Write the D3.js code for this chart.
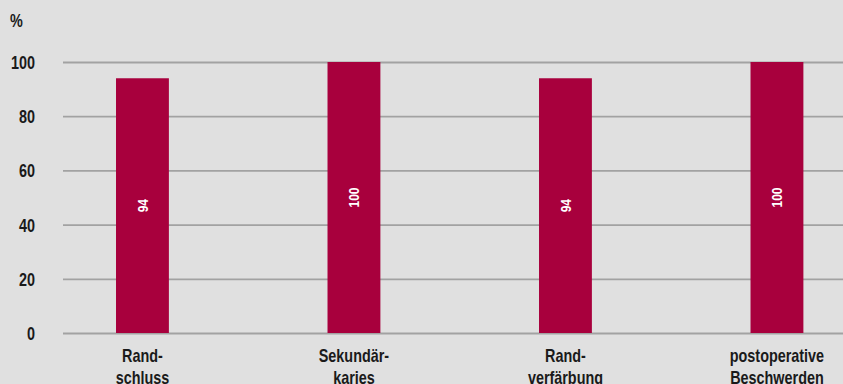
<!DOCTYPE html>
<html>
<head>
<meta charset="utf-8">
<script src="https://cdn.jsdelivr.net/npm/d3@7"></script>
<style>
  html, body { margin: 0; padding: 0; background: #e0e0e0; }
  svg { display: block; }
  text { font-family: "Liberation Sans", Arial, sans-serif; font-weight: bold; }
</style>
</head>
<body>
<svg id="chart" width="843" height="384"></svg>
<script>
// Categories (two-line labels) and their percentages
const categories = [
  ["Rand-", "schluss"],
  ["Sekundär-", "karies"],
  ["Rand-", "verfärbung"],
  ["postoperative", "Beschwerden"]
];
const values = [94, 100, 94, 100];
const yTicks = [0, 20, 40, 60, 80, 100];
const unitLabel = "%";

const W = 843, H = 384;
const NARROW = 0.8;          // horizontal squeeze for a condensed look
const FONT = 18;
const svg = d3.select("#chart");

svg.append("rect").attr("width", W).attr("height", H).attr("fill", "#e0e0e0");

const x = d3.scaleBand()
  .domain(d3.range(categories.length))
  .range([36.7, 882.7])
  .paddingInner(0.75)
  .paddingOuter(0.375);

const y = d3.scaleLinear().domain([0, 100]).range([333, 62]);

// Horizontal gridlines with tick labels
const yAxis = d3.axisLeft(y)
  .tickValues(yTicks)
  .tickSize(-(W - 63))
  .tickPadding(0);

const gy = svg.append("g").attr("transform", "translate(63,0)").call(yAxis);
gy.select(".domain").remove();
gy.selectAll(".tick line").attr("stroke", "#a2a2a2").attr("stroke-width", 1.8);
gy.selectAll(".tick text")
  .attr("x", null)
  .attr("transform", `translate(-28,0) scale(${NARROW},1)`)
  .attr("fill", "#1a1a1a")
  .attr("font-size", FONT)
  .attr("dy", "0.36em");

svg.append("text")
  .attr("transform", `translate(10,27) scale(${NARROW},1)`)
  .attr("fill", "#1a1a1a")
  .attr("font-size", FONT)
  .text(unitLabel);

// Bars
svg.append("g").selectAll("rect")
  .data(values)
  .join("rect")
  .attr("x", (d, i) => x(i))
  .attr("y", d => y(d))
  .attr("width", x.bandwidth())
  .attr("height", d => y(0) - y(d))
  .attr("fill", "#a8003d");

// Rotated value labels inside bars
svg.append("g").selectAll("text")
  .data(values)
  .join("text")
  .attr("transform", (d, i) => `translate(${x(i) + x.bandwidth() / 2},${(y(d) + y(0)) / 2}) rotate(-90) scale(${NARROW},1)`)
  .attr("text-anchor", "middle")
  .attr("dy", "0.36em")
  .attr("fill", "#ffffff")
  .attr("font-size", 15)
  .text(d => d);

// Category labels below the axis
const cat = svg.append("g").selectAll("text")
  .data(categories)
  .join("text")
  .attr("transform", (d, i) => `translate(${x(i) + x.bandwidth() / 2},362) scale(${NARROW},1)`)
  .attr("text-anchor", "middle")
  .attr("fill", "#1a1a1a")
  .attr("font-size", FONT);

cat.selectAll("tspan")
  .data(d => d)
  .join("tspan")
  .attr("x", 0)
  .attr("y", (d, k) => k * 22)
  .text(d => d);
</script>
</body>
</html>
